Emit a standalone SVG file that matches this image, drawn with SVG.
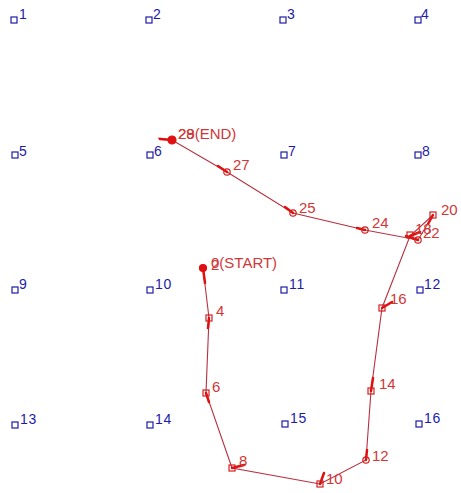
<svg xmlns="http://www.w3.org/2000/svg" width="461" height="493" viewBox="0 0 461 493">
<style>
.g rect{fill:none;stroke:#1c1ca8;stroke-width:1.2}
.g text{fill:#1c1ca8;font-family:"Liberation Sans",Arial,sans-serif;font-size:14px;letter-spacing:0.8px}
.p text{fill:#d03838;font-family:"Liberation Sans",Arial,sans-serif;font-size:15px}
.p rect,.p circle{fill:none;stroke:#d02020;stroke-width:1.2}
.p circle.dot{fill:#e01010;stroke:#e01010}
.dir{stroke:#e01010;stroke-width:2.5;stroke-linecap:round}
#connectors polyline{fill:none;stroke:#b83040;stroke-width:1.1}
</style>
<rect width="461" height="493" fill="#fff"/>
<g id="grid1" class="g"><rect x="11" y="17" width="6" height="6"/><text x="19" y="19">1</text></g>
<g id="grid2" class="g"><rect x="146" y="17" width="6" height="6"/><text x="153" y="19">2</text></g>
<g id="grid3" class="g"><rect x="280" y="17" width="6" height="6"/><text x="287" y="19">3</text></g>
<g id="grid4" class="g"><rect x="415" y="17" width="6" height="6"/><text x="421" y="19">4</text></g>
<g id="grid5" class="g"><rect x="12" y="152" width="6" height="6"/><text x="19" y="156">5</text></g>
<g id="grid6" class="g"><rect x="147" y="152" width="6" height="6"/><text x="154" y="156">6</text></g>
<g id="grid7" class="g"><rect x="281" y="152" width="6" height="6"/><text x="288" y="156">7</text></g>
<g id="grid8" class="g"><rect x="415" y="152" width="6" height="6"/><text x="422" y="156">8</text></g>
<g id="grid9" class="g"><rect x="12" y="287" width="6" height="6"/><text x="19" y="289">9</text></g>
<g id="grid10" class="g"><rect x="147" y="287" width="6" height="6"/><text x="155" y="289">10</text></g>
<g id="grid11" class="g"><rect x="281" y="287" width="6" height="6"/><text x="289" y="289">11</text></g>
<g id="grid12" class="g"><rect x="417" y="287" width="6" height="6"/><text x="424" y="289">12</text></g>
<g id="grid13" class="g"><rect x="12" y="422" width="6" height="6"/><text x="20" y="424">13</text></g>
<g id="grid14" class="g"><rect x="147" y="422" width="6" height="6"/><text x="155" y="424">14</text></g>
<g id="grid15" class="g"><rect x="282" y="421" width="6" height="6"/><text x="290" y="423">15</text></g>
<g id="grid16" class="g"><rect x="416" y="421" width="6" height="6"/><text x="424" y="423">16</text></g>

<g id="connectors">
<polyline points="203,268 209,318 206,393 232,468 320,484 366,460 371,391 382,308 410,236 433,215 418,240 365,230 293,213 227,172 172,140 158,138"/>
<line class="dir" x1="203" y1="268" x2="205" y2="283"/>
<line class="dir" x1="209" y1="318" x2="208" y2="328"/>
<line class="dir" x1="206" y1="393" x2="209" y2="402"/>
<line class="dir" x1="232" y1="468" x2="244" y2="465"/>
<line class="dir" x1="320" y1="484" x2="324" y2="473"/>
<line class="dir" x1="366" y1="460" x2="367" y2="450"/>
<line class="dir" x1="371" y1="391" x2="373" y2="378"/>
<line class="dir" x1="382" y1="308" x2="392" y2="302"/>
<line class="dir" x1="410" y1="236" x2="420" y2="232"/>
<line class="dir" x1="433" y1="215" x2="428" y2="224"/>
<line class="dir" x1="418" y1="240" x2="406" y2="236"/>
<line class="dir" x1="365" y1="230" x2="357" y2="228"/>
<line class="dir" x1="293" y1="213" x2="285" y2="207"/>
<line class="dir" x1="227" y1="172" x2="218" y2="166"/>
<line class="dir" x1="172" y1="140" x2="160" y2="139"/>
</g>

<g id="p0" class="p"><circle class="dot" cx="203" cy="268" r="3.5"/><text x="211" y="270">2</text><text x="211" y="268">0(START)</text></g>
<g id="p4" class="p"><rect x="206" y="315" width="6" height="6"/><text x="216" y="316">4</text></g>
<g id="p6" class="p"><rect x="203" y="390" width="6" height="6"/><text x="212" y="392">6</text></g>
<g id="p8" class="p"><rect x="229" y="465" width="6" height="6"/><text x="239" y="466">8</text></g>
<g id="p10" class="p"><rect x="317" y="481" width="6" height="6"/><text x="326" y="484">10</text></g>
<g id="p12" class="p"><circle cx="366" cy="460" r="3.2"/><text x="372" y="461">12</text></g>
<g id="p14" class="p"><rect x="368" y="388" width="6" height="6"/><text x="379" y="389">14</text></g>
<g id="p16" class="p"><rect x="379" y="305" width="6" height="6"/><text x="390" y="304">16</text></g>
<g id="p18" class="p"><rect x="407" y="232" width="6" height="6"/><text x="415" y="234">18</text></g>
<g id="p20" class="p"><rect x="430" y="212" width="6" height="6"/><text x="441" y="215">20</text></g>
<g id="p22" class="p"><circle cx="418" cy="240" r="3.2"/><text x="423" y="238">22</text></g>
<g id="p24" class="p"><circle cx="365" cy="230" r="3.2"/><text x="372" y="228">24</text></g>
<g id="p25" class="p"><circle cx="293" cy="213" r="3.2"/><text x="299" y="213">25</text></g>
<g id="p27" class="p"><circle cx="227" cy="172" r="3.2"/><text x="233" y="170">27</text></g>
<g id="p29" class="p"><circle class="dot" cx="172" cy="140" r="4"/><text x="178" y="139">28</text><text x="178" y="139">29(END)</text></g>
</svg>
